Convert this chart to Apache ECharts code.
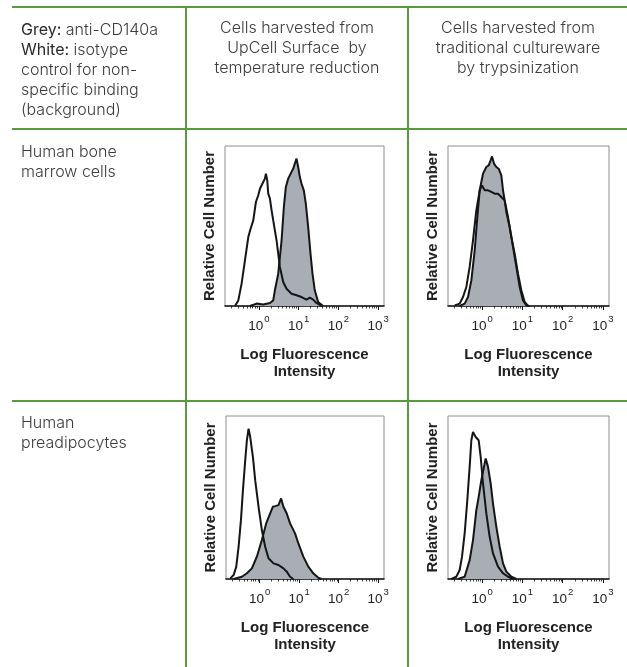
<!DOCTYPE html>
<html>
<head>
<meta charset="utf-8">
<title>Anti-CD140a flow cytometry</title>
<script src="https://cdn.jsdelivr.net/npm/echarts@6/dist/echarts.min.js"></script>
<style>
  html, body { margin: 0; padding: 0; background: #fff; }
  #chart { width: 627px; height: 667px; }
</style>
</head>
<body>
<div id="chart"></div>
<script>
// x = log10 fluorescence intensity, y = relative cell number (% of panel scale)
const decades = [0, 1, 2, 3];
const xRange = [-0.85, 3.15];

const marrowUpcellGrey = [
  [-0.222, 0], [-0.055, 1.5], [0.112, 1.0], [0.280, 1.9], [0.363, 3.5], [0.405, 9.8],
  [0.489, 20.2], [0.573, 41.0], [0.631, 61.9], [0.681, 74.4], [0.740, 79.6], [0.824, 83.8],
  [0.865, 85.8], [0.907, 89.0], [0.949, 92.1], [0.991, 86.9], [1.033, 80.6], [1.075, 76.5],
  [1.133, 72.3], [1.183, 64.0], [1.242, 49.4], [1.301, 32.7], [1.351, 20.2], [1.409, 9.8],
  [1.493, 2.5], [1.619, 0]
];
const marrowUpcellWhite = [
  [-0.599, 0], [-0.515, 3.5], [-0.432, 14.0], [-0.348, 28.5], [-0.264, 43.1], [-0.206, 48.3],
  [-0.139, 53.5], [-0.072, 65.0], [-0.013, 69.2], [0.029, 73.3], [0.070, 74.4], [0.112, 77.5],
  [0.154, 79.6], [0.179, 82.7], [0.213, 78.5], [0.238, 70.2], [0.280, 67.1], [0.322, 59.8],
  [0.363, 53.5], [0.447, 41.0], [0.531, 24.4], [0.614, 15.0], [0.698, 10.8], [0.824, 7.7],
  [0.949, 6.7], [1.075, 5.6], [1.200, 4.0], [1.284, 5.2], [1.368, 4.0], [1.451, 1.9], [1.577, 0]
];

const marrowTrypsinGrey = [
  [-0.560, 0], [-0.436, 1.5], [-0.353, 5.6], [-0.270, 16.0], [-0.187, 34.8], [-0.121, 55.6],
  [-0.063, 72.3], [0.020, 82.7], [0.102, 86.9], [0.160, 87.9], [0.210, 91.0], [0.243, 93.5],
  [0.293, 89.0], [0.351, 86.9], [0.409, 85.8], [0.475, 81.7], [0.517, 72.3], [0.558, 66.0],
  [0.641, 55.6], [0.724, 43.1], [0.806, 32.7], [0.889, 20.2], [0.972, 9.8], [1.055, 2.5], [1.138, 0]
];
const marrowTrypsinWhite = [
  [-0.684, 0.4], [-0.560, 1.5], [-0.477, 5.6], [-0.394, 11.9], [-0.312, 24.4], [-0.229, 41.0],
  [-0.146, 59.8], [-0.063, 72.3], [-0.005, 75.4], [0.061, 72.3], [0.144, 72.3], [0.227, 71.3],
  [0.309, 70.2], [0.392, 70.2], [0.475, 68.1], [0.517, 69.2], [0.558, 66.0], [0.599, 58.8],
  [0.682, 49.4], [0.765, 36.9], [0.848, 24.4], [0.931, 11.9], [1.013, 3.5], [1.096, 0.4], [1.179, 0]
];

const preadipUpcellGrey = [
  [-0.657, 0], [-0.447, 1.4], [-0.321, 3.5], [-0.195, 6.5], [-0.069, 13.7], [0.058, 23.9],
  [0.167, 34.1], [0.268, 40.2], [0.335, 44.3], [0.394, 44.7], [0.478, 45.3], [0.545, 49.4],
  [0.604, 44.3], [0.688, 40.2], [0.772, 34.1], [0.898, 28.0], [0.982, 21.8], [1.108, 13.7],
  [1.234, 7.6], [1.360, 3.5], [1.486, 0.8], [1.570, 0]
];
const preadipUpcellWhite = [
  [-0.741, 0.4], [-0.657, 2.4], [-0.590, 7.6], [-0.531, 19.8], [-0.472, 36.1], [-0.421, 54.5],
  [-0.363, 72.9], [-0.321, 85.1], [-0.279, 92.2], [-0.237, 87.1], [-0.169, 74.9], [-0.111, 60.6],
  [-0.026, 44.3], [0.058, 30.0], [0.142, 19.8], [0.226, 12.7], [0.352, 9.6], [0.478, 8.6],
  [0.604, 6.5], [0.688, 4.5], [0.772, 1.4], [0.856, 0]
];

const preadipTrypsinGrey = [
  [-0.602, 0], [-0.436, 1.4], [-0.312, 11.6], [-0.229, 23.9], [-0.146, 42.2], [-0.088, 50.4],
  [-0.022, 60.6], [0.044, 68.8], [0.086, 73.9], [0.144, 68.8], [0.210, 58.6], [0.268, 46.3],
  [0.351, 32.0], [0.434, 19.8], [0.517, 9.6], [0.599, 4.5], [0.724, 1.4], [0.848, 0]
];
const preadipTrypsinWhite = [
  [-0.767, 0], [-0.643, 1.4], [-0.560, 5.5], [-0.502, 13.7], [-0.436, 28.0], [-0.370, 48.4],
  [-0.312, 68.8], [-0.270, 85.1], [-0.229, 90.2], [-0.204, 91.2], [-0.163, 87.1], [-0.121, 88.2],
  [-0.088, 85.1], [-0.038, 74.9], [0.020, 58.6], [0.102, 40.2], [0.185, 25.9], [0.268, 15.7],
  [0.392, 7.6], [0.517, 3.5], [0.641, 1.4], [0.765, 0]
];

const headerCondition = 'Cells harvested from\nUpCell Surface  by\ntemperature reduction';
const headerControl = 'Cells harvested from\ntraditional cultureware\nby trypsinization';
const rowLabels = ['Human bone\nmarrow cells', 'Human\npreadipocytes'];

const green = '#5a9a3e';
const ink = '#151515';
const greyFill = '#a8aeb4';
const bodyFont = 'Inter, Roboto, "Liberation Sans", sans-serif';
const plotFont = '"Liberation Sans", Arial, sans-serif';

const panels = [
  [marrowUpcellGrey, marrowUpcellWhite],
  [marrowTrypsinGrey, marrowTrypsinWhite],
  [preadipUpcellGrey, preadipUpcellWhite],
  [preadipTrypsinGrey, preadipTrypsinWhite]
];
const grids = [
  { left: 225, top: 146, width: 159, height: 160 },
  { left: 448, top: 146, width: 161, height: 160 },
  { left: 226, top: 416, width: 158, height: 163 },
  { left: 448, top: 416, width: 161, height: 163 }
];

// log-spaced minor ticks (2..9 in each decade)
const minorTicks = [];
for (let n = -1; n <= 3; n++) {
  for (let k = 2; k <= 9; k++) {
    const v = n + Math.log10(k);
    if (v > xRange[0] && v < xRange[1]) minorTicks.push(v);
  }
}

const xAxes = [];
const yAxes = [];
const series = [];
panels.forEach((pair, i) => {
  xAxes.push({
    type: 'value', gridIndex: i, min: xRange[0], max: xRange[1], position: 'bottom',
    axisLine: { show: true, lineStyle: { color: ink, width: 1.6 } },
    axisTick: { show: true, customValues: decades, length: 4, lineStyle: { color: ink, width: 1 } },
    axisLabel: {
      customValues: decades, margin: 6, color: '#222',
      formatter: v => '{b|10}{s|' + v + '}',
      rich: {
        b: { fontFamily: plotFont, fontSize: 13.5, color: '#222', padding: [7, 0, 0, 0] },
        s: { fontFamily: plotFont, fontSize: 9.5, color: '#222', padding: [0, 0, 7, 1] }
      }
    },
    splitLine: { show: false },
    name: 'Log Fluorescence\nIntensity', nameLocation: 'middle', nameGap: 40,
    nameTextStyle: { fontFamily: plotFont, fontWeight: 'bold', fontSize: 15, color: '#222', lineHeight: 17 }
  });
  xAxes.push({
    type: 'value', gridIndex: i, min: xRange[0], max: xRange[1], position: 'bottom',
    axisLine: { show: false },
    axisTick: { show: true, customValues: minorTicks, length: 2.5, lineStyle: { color: ink, width: 0.8 } },
    axisLabel: { show: false },
    splitLine: { show: false }
  });
  yAxes.push({
    type: 'value', gridIndex: i, min: 0, max: 100,
    axisLine: { show: false }, axisTick: { show: false }, axisLabel: { show: false },
    splitLine: { show: false },
    name: 'Relative Cell Number', nameLocation: 'middle', nameGap: 8, nameRotate: 90,
    nameTextStyle: { fontFamily: plotFont, fontWeight: 'bold', fontSize: 15, color: '#222' }
  });
  series.push({
    type: 'line', xAxisIndex: 2 * i, yAxisIndex: i, data: pair[0], symbol: 'none', z: 2,
    lineStyle: { color: ink, width: 2 },
    areaStyle: { color: greyFill, opacity: 1 }
  });
  series.push({
    type: 'line', xAxisIndex: 2 * i, yAxisIndex: i, data: pair[1], symbol: 'none', z: 3,
    lineStyle: { color: ink, width: 2 }
  });
});

function rule(x1, y1, x2, y2) {
  return { type: 'line', silent: true, shape: { x1, y1, x2, y2 }, style: { stroke: green, lineWidth: 2 } };
}
function note(x, y, text, align) {
  return {
    type: 'text', x, y, silent: true,
    style: {
      text, align, verticalAlign: 'top', fill: '#3c3c3c',
      font: '300 16px ' + bodyFont, lineHeight: 20,
      rich: { b: { fill: '#2a2a2a', font: '400 16px ' + bodyFont, lineHeight: 20 } }
    }
  };
}

const chart = echarts.init(document.getElementById('chart'));
chart.setOption({
  animation: false,
  backgroundColor: '#fff',
  grid: grids.map(g => Object.assign({ show: true, borderColor: '#8f8f8f', borderWidth: 1 }, g)),
  xAxis: xAxes,
  yAxis: yAxes,
  series,
  graphic: [
    rule(12, 7, 627, 7),
    rule(12, 129, 627, 129),
    rule(12, 401, 627, 401),
    rule(186, 7, 186, 667),
    rule(408, 7, 408, 667),
    note(21, 20, '{b|Grey:} anti-CD140a\n{b|White:} isotype\ncontrol for non-\nspecific binding\n(background)', 'left'),
    note(297, 18.5, headerCondition, 'center'),
    note(518, 18.5, headerControl, 'center'),
    note(21, 142, rowLabels[0], 'left'),
    note(21, 413, rowLabels[1], 'left')
  ]
});

window.addEventListener('resize', () => chart.resize());
</script>
</body>
</html>
